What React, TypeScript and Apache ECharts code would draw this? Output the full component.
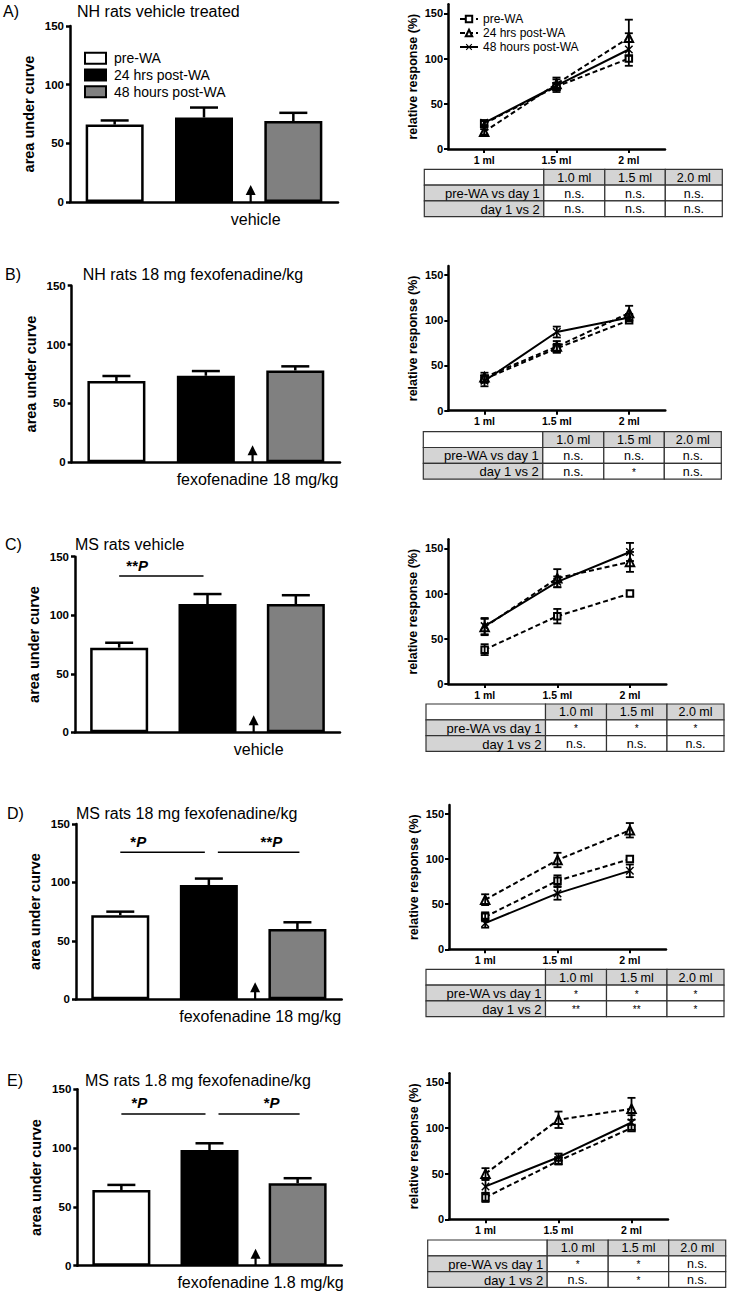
import { useEffect, useRef } from 'react';
import * as echarts from 'echarts';

const FONT = '"Liberation Sans", Arial, Helvetica, sans-serif';

// ---------------- data ----------------
const groupNames = ['pre-WA', '24 hrs post-WA', '48 hours post-WA'];
const doseLabels = ['1 ml', '1.5 ml', '2 ml'];
const yTickValues = [0, 50, 100, 150];
const panelLetters = ['A)', 'B)', 'C)', 'D)', 'E)'];
const panelTitles = [
  'NH rats vehicle treated',
  'NH rats 18 mg fexofenadine/kg',
  'MS rats vehicle',
  'MS rats 18 mg fexofenadine/kg',
  'MS rats 1.8 mg fexofenadine/kg',
];
const treatmentLabels = ['vehicle', 'fexofenadine 18 mg/kg', 'vehicle', 'fexofenadine 18 mg/kg', 'fexofenadine 1.8 mg/kg'];

const aucMean = [
  [66, 72, 69],
  [69, 73.5, 78],
  [72.3, 109.6, 109.6],
  [72, 97.8, 60.2],
  [64.4, 98.4, 70.1],
];
const aucSem = [
  [3.5, 8.5, 7],
  [4.3, 4, 3.5],
  [4.2, 8.5, 7.5],
  [3, 5.5, 5.7],
  [4.3, 5.7, 4.3],
];

const preWaResponse = [
  [28, 69, 100],
  [35, 69, 100],
  [38, 75, 100],
  [36, 76, 100],
  [24, 64, 100],
];
const preWaSem = [
  [3, 4, 0],
  [4, 5, 0],
  [6, 8, 0],
  [5, 6, 0],
  [5, 4, 0],
];
const post24Response = [
  [19, 72, 123],
  [37, 71, 108],
  [63, 117, 135],
  [55, 99, 132],
  [50, 109, 121],
];
const post24Sem = [
  [3, 7, 20],
  [5, 6, 8],
  [9, 10, 11],
  [6, 8, 8],
  [6, 9, 12],
];
const post48Response = [
  [29, 70, 110],
  [33, 87, 103],
  [64, 113, 146],
  [29, 62, 87],
  [36, 68, 106],
];
const post48Sem = [
  [3, 7, 18],
  [6, 6, 4],
  [9, 6, 10],
  [5, 7, 7],
  [7, 4, 8],
];

const sigPairs: { from: number; to: number; stars: string }[][] = [
  [],
  [],
  [{ from: 0, to: 1, stars: '**' }],
  [{ from: 0, to: 1, stars: '*' }, { from: 1, to: 2, stars: '**' }],
  [{ from: 0, to: 1, stars: '*' }, { from: 1, to: 2, stars: '*' }],
];
const sigLevel = [0, 0, 133.5, 125.8, 129];

const tableHeader = ['1.0 ml', '1.5 ml', '2.0 ml'];
const tableRowLabels = ['pre-WA vs day 1', 'day 1 vs 2'];
const preVsDay1 = [
  ['n.s.', 'n.s.', 'n.s.'],
  ['n.s.', 'n.s.', 'n.s.'],
  ['*', '*', '*'],
  ['*', '*', '*'],
  ['*', '*', 'n.s.'],
];
const day1VsDay2 = [
  ['n.s.', 'n.s.', 'n.s.'],
  ['n.s.', '*', 'n.s.'],
  ['n.s.', 'n.s.', 'n.s.'],
  ['**', '**', '*'],
  ['n.s.', '*', 'n.s.'],
];

// ---------------- layout ----------------
const barGrids = [
  { left: 70, top: 26, width: 268, height: 176 },
  { left: 71.7, top: 285.7, width: 268.3, height: 176.6 },
  { left: 75, top: 556.7, width: 265, height: 175.6 },
  { left: 76, top: 824, width: 265.7, height: 175.3 },
  { left: 77.3, top: 1089.3, width: 264.4, height: 176.4 },
];
const lineGrids = [
  { left: 448, top: 4.3, width: 217, height: 144.7 },
  { left: 448.3, top: 266, width: 217, height: 144.7 },
  { left: 448.3, top: 539.3, width: 218, height: 144.7 },
  { left: 449, top: 805, width: 217, height: 144.3 },
  { left: 449, top: 1073.2, width: 219, height: 146.1 },
];
const tableLefts = [424.3, 423.3, 426, 426, 427.7];
const tableTops = [169.3, 431.7, 704, 969.3, 1240];
const colEdges = [0, 119.5, 180.5, 241, 298];
const rowH = 15.8;
const letterX = [3, 5, 5, 7, 7];
const titleX = [77, 82.7, 75, 76, 85];
const titleY = [11, 274, 544, 813, 1080];

const barFills = ['#ffffff', '#000000', '#808080'];
const BAR_MAX = 150;

const xStar = 'path://M0,1.2L1.2,0L5,3.8L8.8,0L10,1.2L6.2,5L10,8.8L8.8,10L5,6.2L1.2,10L0,8.8L3.8,5Z';

function barCatX(p: number, i: number) {
  const g = barGrids[p];
  return g.left + (g.width * (i + 0.5)) / 3;
}
function barValY(p: number, v: number) {
  const g = barGrids[p];
  return g.top + g.height * (1 - v / BAR_MAX);
}

function errRender(capHalf: number, lw: number, both: boolean) {
  return (_params: any, api: any) => {
    const i = api.value(0);
    const lo = api.coord([i, api.value(1)]);
    const hi = api.coord([i, api.value(2)]);
    const style = { stroke: '#000', lineWidth: lw, fill: null };
    const children: any[] = [
      { type: 'line', shape: { x1: lo[0], y1: lo[1], x2: hi[0], y2: hi[1] }, style },
      { type: 'line', shape: { x1: hi[0] - capHalf, y1: hi[1], x2: hi[0] + capHalf, y2: hi[1] }, style },
    ];
    if (both) {
      children.push({ type: 'line', shape: { x1: lo[0] - capHalf, y1: lo[1], x2: lo[0] + capHalf, y2: lo[1] }, style });
    }
    return { type: 'group', children };
  };
}

function txt(x: number, y: number, text: string, opts: any = {}, rotation = 0) {
  return {
    type: 'text',
    x,
    y,
    rotation,
    silent: true,
    style: {
      text,
      fill: '#000',
      fontFamily: FONT,
      fontSize: opts.fontSize || 12,
      fontWeight: opts.fontWeight || 'normal',
      fontStyle: opts.fontStyle || 'normal',
      align: opts.align || 'left',
      verticalAlign: 'middle',
      textAlign: opts.align || 'left',
      textVerticalAlign: 'middle',
      rich: opts.rich,
    },
  };
}

function buildOption() {
  const grid: any[] = [];
  const xAxis: any[] = [];
  const yAxis: any[] = [];
  const series: any[] = [];
  const graphic: any[] = [];

  const axisLineStyle = { color: '#000', width: 2.5 };

  // bar charts: grid 0..4
  barGrids.forEach((g, p) => {
    grid.push({ ...g, containLabel: false });
    xAxis.push({
      type: 'category',
      gridIndex: p,
      data: groupNames,
      axisLine: { show: true, lineStyle: axisLineStyle },
      axisTick: { show: false },
      axisLabel: { show: false },
      splitLine: { show: false },
    });
    yAxis.push({
      type: 'value',
      gridIndex: p,
      min: 0,
      max: BAR_MAX,
      interval: 50,
      axisLine: { show: true, lineStyle: axisLineStyle },
      axisTick: { show: true, length: 4, lineStyle: { color: '#000', width: 2.5 } },
      axisLabel: { fontFamily: FONT, fontWeight: 'bold', fontSize: 11.5, color: '#000', margin: 6 },
      splitLine: { show: false },
    });
  });
  // line charts: grid 5..9
  lineGrids.forEach((g, p) => {
    grid.push({ ...g, containLabel: false });
    xAxis.push({
      type: 'category',
      gridIndex: 5 + p,
      data: doseLabels,
      axisLine: { show: true, lineStyle: axisLineStyle },
      axisTick: { show: true, alignWithLabel: true, length: 4, lineStyle: { color: '#000', width: 2 } },
      axisLabel: { fontFamily: FONT, fontWeight: 'bold', fontSize: 10.5, color: '#000', margin: 5 },
      splitLine: { show: false },
    });
    yAxis.push({
      type: 'value',
      gridIndex: 5 + p,
      min: 0,
      max: 160,
      axisLine: { show: true, lineStyle: axisLineStyle },
      axisTick: { show: true, length: 4, customValues: yTickValues, lineStyle: { color: '#000', width: 2 } },
      axisLabel: { customValues: yTickValues, fontFamily: FONT, fontWeight: 'bold', fontSize: 11, color: '#000', margin: 5 },
      splitLine: { show: false },
    });
  });

  for (let p = 0; p < 5; p++) {
    // bars
    series.push({
      type: 'bar',
      name: 'AUC ' + panelLetters[p],
      xAxisIndex: p,
      yAxisIndex: p,
      barWidth: 58,
      data: aucMean[p].map((v, i) => ({ value: v, itemStyle: { color: barFills[i] } })),
      itemStyle: { borderColor: '#000', borderWidth: 2.5 },
      z: 2,
    });
    series.push({
      type: 'custom',
      name: 'AUC err ' + panelLetters[p],
      xAxisIndex: p,
      yAxisIndex: p,
      renderItem: errRender(14, 2.5, false),
      encode: { x: 0, y: [1, 2] },
      data: aucMean[p].map((v, i) => [i, v, v + aucSem[p][i]]),
      z: 3,
    });

    // lines
    const ax = 5 + p;
    const defs = [
      { name: groupNames[0], data: preWaResponse[p], sem: preWaSem[p], symbol: 'emptyRect', size: 6.5, dashed: true },
      { name: groupNames[1], data: post24Response[p], sem: post24Sem[p], symbol: 'emptyTriangle', size: 8.5, dashed: true },
      { name: groupNames[2], data: post48Response[p], sem: post48Sem[p], symbol: xStar, size: 8.5, dashed: false },
    ];
    const errRows: number[][] = [];
    defs.forEach((d, k) => {
      series.push({
        type: 'line',
        name: d.name,
        xAxisIndex: ax,
        yAxisIndex: ax,
        data: d.data,
        symbol: d.symbol,
        symbolSize: d.size,
        showAllSymbol: true,
        lineStyle: { color: '#000', width: 2, type: d.dashed ? [5, 3] : 'solid' },
        itemStyle: { color: '#000', borderColor: '#000', borderWidth: k === 2 ? 0 : 1.5 },
        z: 4 + k,
      });
      d.data.forEach((v, i) => {
        if (d.sem[i] > 0) errRows.push([i, v - d.sem[i], v + d.sem[i]]);
      });
    });
    series.push({
      type: 'custom',
      name: 'resp err ' + panelLetters[p],
      xAxisIndex: ax,
      yAxisIndex: ax,
      renderItem: errRender(4, 1.8, true),
      encode: { x: 0, y: [1, 2] },
      data: errRows,
      z: 8,
    });

    // ---- graphic annotations ----
    const bg = barGrids[p];
    const lg = lineGrids[p];
    graphic.push(txt(letterX[p], titleY[p], panelLetters[p], { fontSize: 16 }));
    graphic.push(txt(titleX[p], titleY[p], panelTitles[p], { fontSize: 16 }));
    graphic.push(
      txt(bg.left - 41, bg.top + bg.height / 2, 'area under curve', { fontSize: 14.5, fontWeight: 'bold', align: 'center' }, Math.PI / 2)
    );
    graphic.push(
      txt(lg.left - 35, lg.top + lg.height / 2, 'relative response (%)', { fontSize: 12.5, fontWeight: 'bold', align: 'center' }, Math.PI / 2)
    );

    // treatment arrow
    const axisY = bg.top + bg.height;
    const arrowX = bg.left + (bg.width * 2) / 3 + 2;
    const tipY = axisY - 17;
    graphic.push({
      type: 'line',
      silent: true,
      shape: { x1: arrowX, y1: tipY + 6, x2: arrowX, y2: axisY },
      style: { stroke: '#000', lineWidth: 2.2 },
    });
    graphic.push({
      type: 'polygon',
      silent: true,
      shape: { points: [[arrowX - 5, tipY + 10], [arrowX, tipY], [arrowX + 5, tipY + 10]] },
      style: { fill: '#000' },
    });
    graphic.push(txt(arrowX + 5, axisY + 17, treatmentLabels[p], { fontSize: 16, align: 'center' }));

    // significance brackets
    sigPairs[p].forEach((s, k) => {
      const y = barValY(p, sigLevel[p]);
      const x1 = barCatX(p, s.from) + (k === 0 ? 0 : 9);
      const x2 = barCatX(p, s.to) + (k === 0 ? -4 : 2);
      graphic.push({ type: 'line', silent: true, shape: { x1, y1: y, x2, y2: y }, style: { stroke: '#000', lineWidth: 1.5 } });
      const tx = k === 0 ? barCatX(p, s.from) + 18 : barCatX(p, s.to) - 26;
      graphic.push(
        txt(tx, y - 11, '{s|' + s.stars + '}{p|P}', {
          fontSize: 15,
          fontWeight: 'bold',
          align: 'center',
          rich: {
            s: { fontFamily: FONT, fontSize: 15, fontWeight: 'bold', fill: '#000', color: '#000' },
            p: { fontFamily: FONT, fontSize: 15, fontWeight: 'bold', fontStyle: 'italic', fill: '#000', color: '#000' },
          },
        })
      );
    });

    // table
    const tl = tableLefts[p];
    const tt = tableTops[p];
    const rows = [['', ...tableHeader], [tableRowLabels[0], ...preVsDay1[p]], [tableRowLabels[1], ...day1VsDay2[p]]];
    rows.forEach((row, r) => {
      row.forEach((cell, c) => {
        const x0 = tl + colEdges[c];
        const x1 = tl + colEdges[c + 1];
        const y0 = tt + r * rowH;
        const shaded = (r === 0 && c > 0) || (r > 0 && c === 0);
        graphic.push({
          type: 'rect',
          silent: true,
          shape: { x: x0, y: y0, width: x1 - x0, height: rowH },
          style: { fill: shaded ? '#d4d4d4' : '#ffffff', stroke: '#333', lineWidth: 1.2 },
        });
        if (cell) {
          if (c === 0) graphic.push(txt(x1 - 4, y0 + rowH / 2 + 0.5, cell, { fontSize: 13, align: 'right' }));
          else graphic.push(txt((x0 + x1) / 2, y0 + rowH / 2 + (cell.indexOf('*') === 0 ? 1 : 0.5), cell, { fontSize: cell.indexOf('*') === 0 ? 10 : 12.5, align: 'center' }));
        }
      });
    });
  }

  // bar legend (panel A)
  const legendRowsY = [58.3, 75, 91.7];
  groupNames.forEach((n, i) => {
    graphic.push({
      type: 'rect',
      silent: true,
      shape: { x: 85, y: legendRowsY[i] - 5.5, width: 21, height: 11 },
      style: { fill: barFills[i], stroke: '#000', lineWidth: 2 },
    });
    graphic.push(txt(114, legendRowsY[i], n, { fontSize: 14 }));
  });

  return {
    animation: false,
    backgroundColor: '#ffffff',
    grid,
    xAxis,
    yAxis,
    series,
    legend: {
      data: groupNames,
      left: 459,
      top: 13,
      orient: 'vertical',
      itemWidth: 18,
      itemHeight: 8,
      itemGap: 2,
      selectedMode: false,
      padding: 0,
      textStyle: { fontFamily: FONT, fontSize: 12, color: '#000' },
    },
    graphic: { elements: graphic },
  };
}

export default function App() {
  const ref = useRef<HTMLDivElement>(null);
  useEffect(() => {
    const chart = echarts.init(ref.current!, null, { renderer: 'svg' });
    chart.setOption(buildOption() as any);
    return () => chart.dispose();
  }, []);
  return (
    <div
      ref={ref}
      style={{ position: 'absolute', left: 0, top: 0, width: 732, height: 1293, background: '#fff' }}
    />
  );
}
